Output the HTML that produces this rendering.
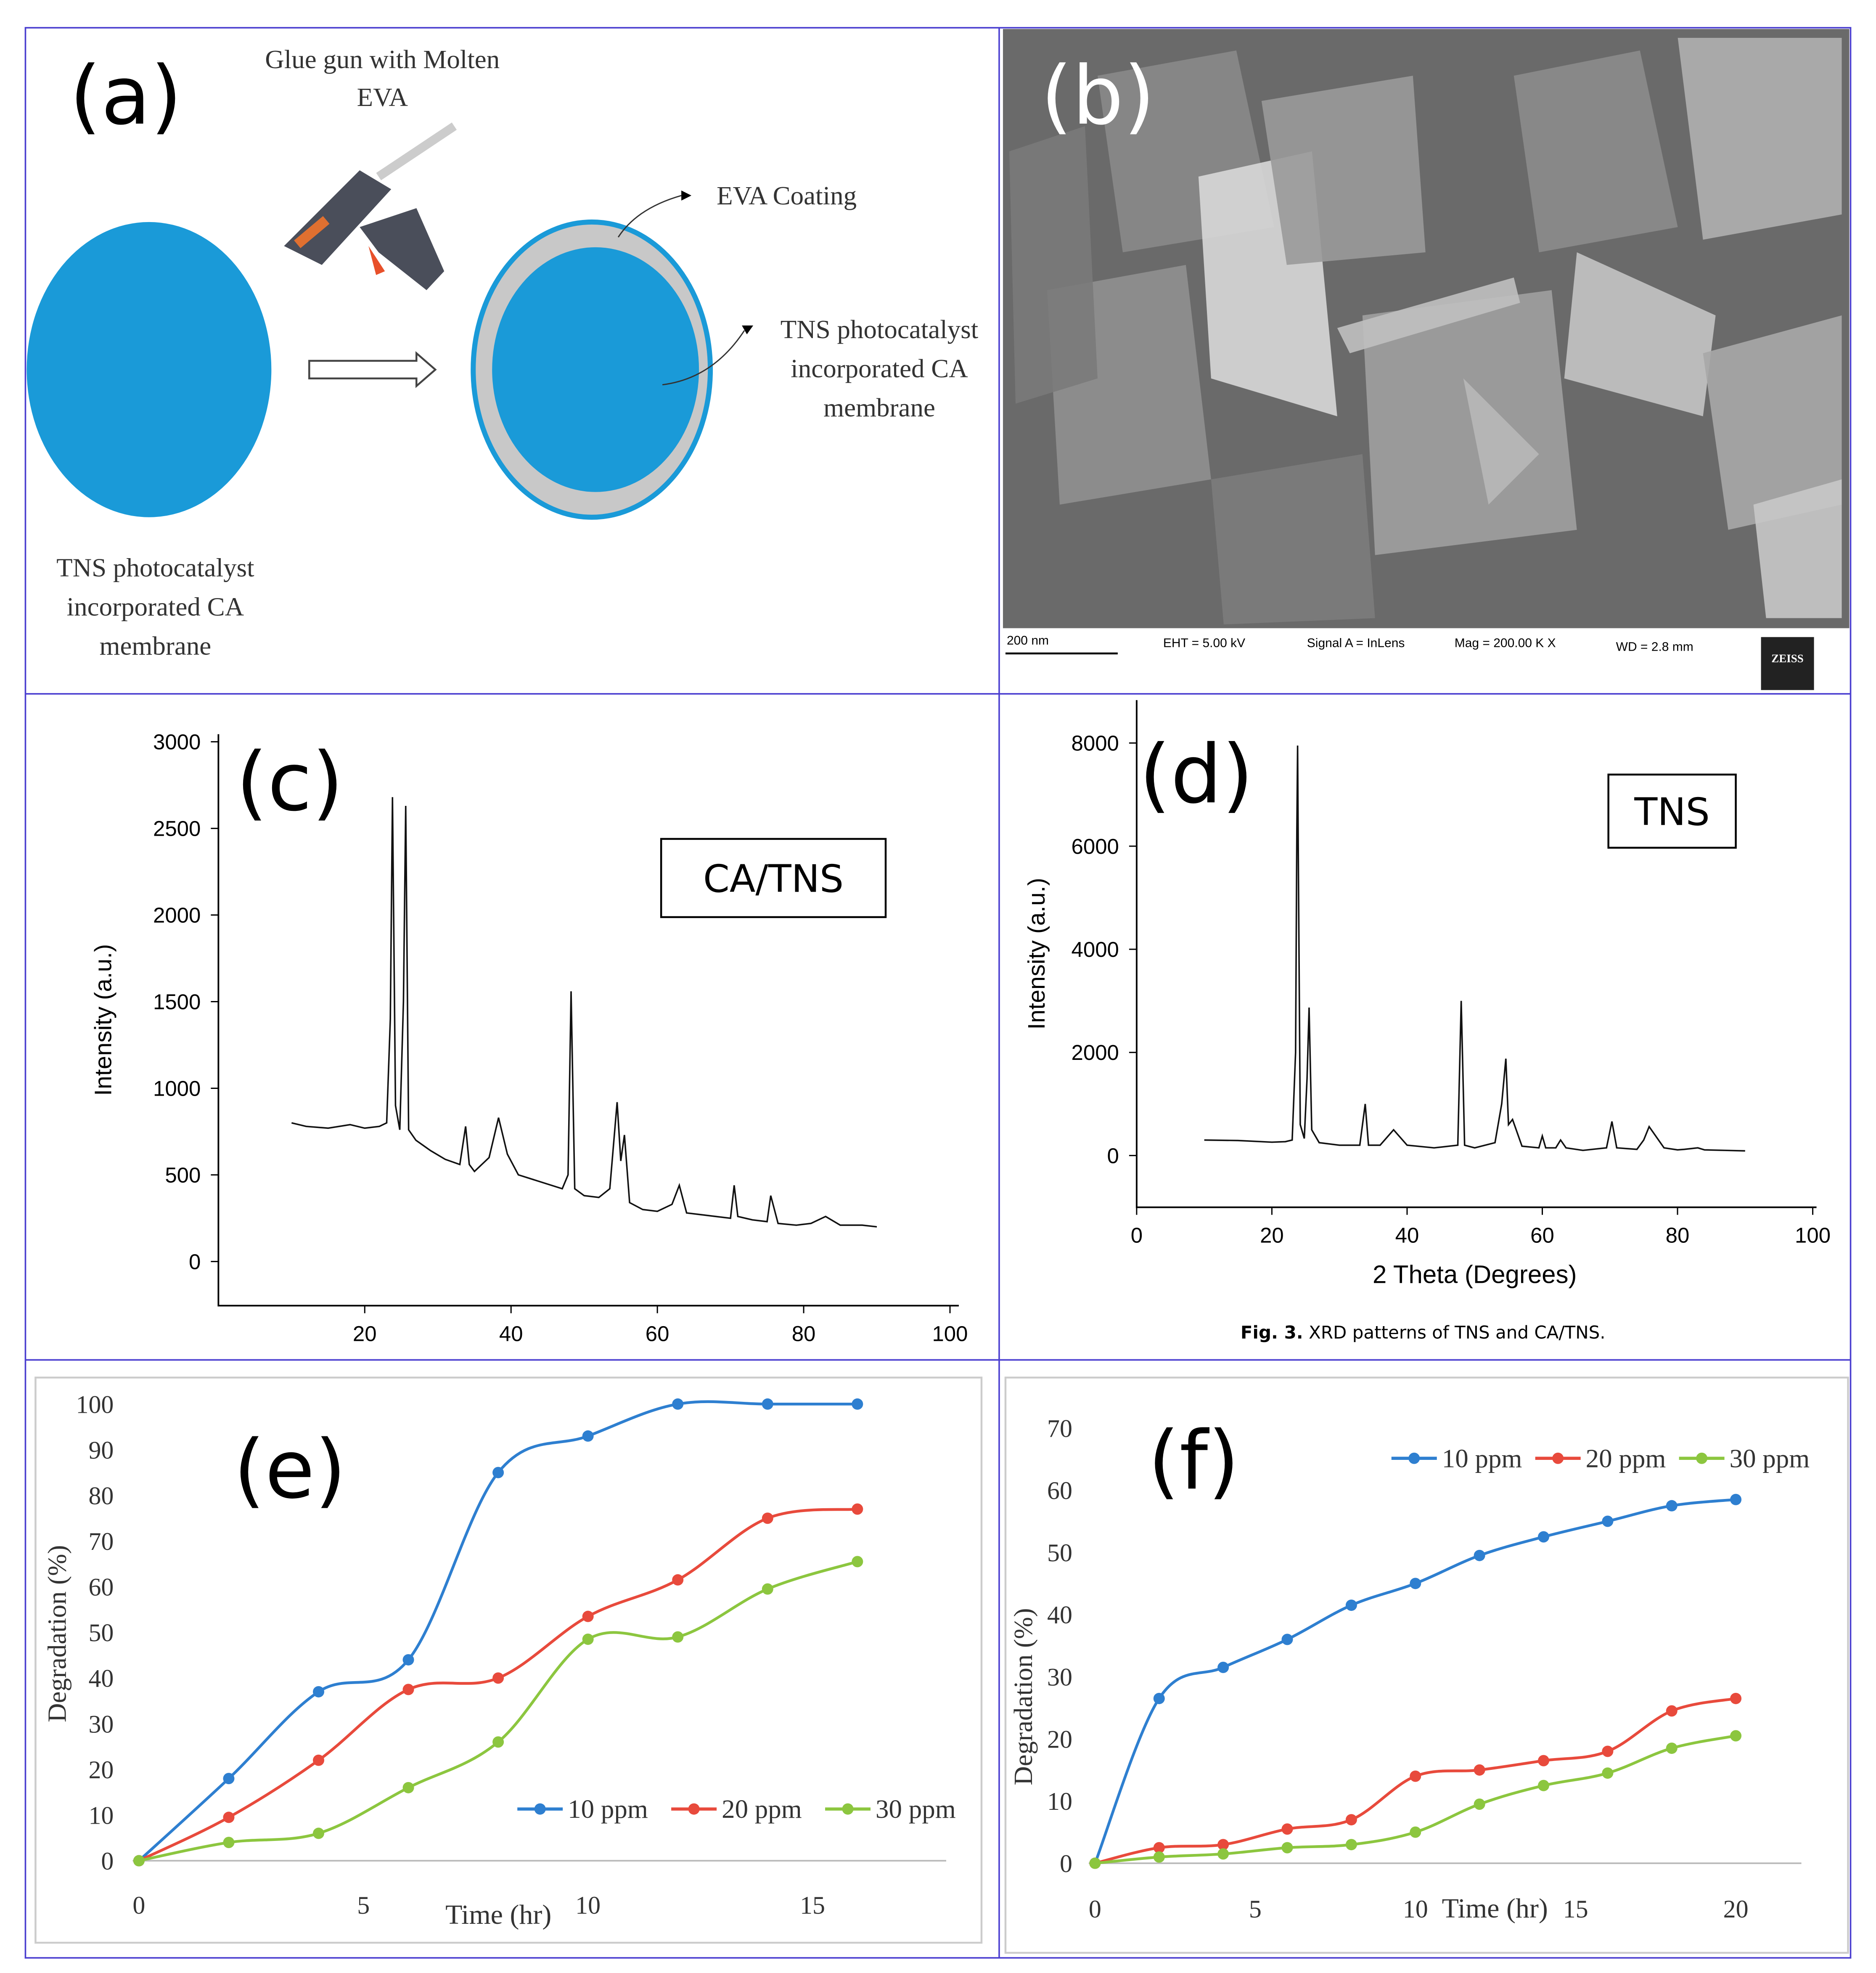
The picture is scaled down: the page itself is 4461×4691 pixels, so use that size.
<!DOCTYPE html>
<html><head><meta charset="utf-8"><style>
html,body{margin:0;padding:0;background:#fff}
svg{display:block}
</style></head><body>
<svg id="fig" xmlns="http://www.w3.org/2000/svg" width="4461" height="4691" viewBox="0 0 1487 1564" font-family="Liberation Sans, sans-serif">
<rect width="1487" height="1564" fill="#fff"/>
<!-- frame -->
<g fill="none" stroke="#4b3fd0" stroke-width="1.2">
<rect x="20" y="22" width="1447" height="1530"/>
<line x1="792" y1="22" x2="792" y2="1552"/>
<line x1="20" y1="550" x2="1467" y2="550"/>
<line x1="20" y1="1078" x2="1467" y2="1078"/>
</g>
<!-- panel a -->
<g font-family="Liberation Serif, serif">
<text x="55" y="98" font-family="DejaVu Sans, sans-serif" font-size="64">(a)</text>
<text x="303" y="54" font-size="21" text-anchor="middle" fill="#333">Glue gun with Molten</text>
<text x="303" y="84" font-size="21" text-anchor="middle" fill="#333">EVA</text>
<ellipse cx="118" cy="293" rx="97" ry="117" fill="#1a9ad8"/>
<text x="123" y="457" font-size="21" text-anchor="middle" fill="#333">TNS photocatalyst</text>
<text x="123" y="488" font-size="21" text-anchor="middle" fill="#333">incorporated CA</text>
<text x="123" y="519" font-size="21" text-anchor="middle" fill="#333">membrane</text>
<path d="M245 286 H330 V280 L345 293 L330 306 V300 H245 Z" fill="#fff" stroke="#444" stroke-width="1.5"/>
<g>
<line x1="300" y1="140" x2="360" y2="100" stroke="#ccc" stroke-width="7"/>
<path d="M225 195 L285 135 L310 150 L255 210 Z" fill="#4a4e5a"/>
<path d="M285 180 L330 165 L352 215 L338 230 L300 200 Z" fill="#4a4e5a"/>
<path d="M292 195 L305 215 L298 218 Z" fill="#e8502a"/>
<rect x="232" y="180" width="30" height="8" fill="#e07030" transform="rotate(-40 247 184)"/>
</g>
<ellipse cx="469" cy="293" rx="94" ry="117" fill="#c8c8c8" stroke="#1a9ad8" stroke-width="4"/>
<ellipse cx="472" cy="293" rx="82" ry="97" fill="#1a9ad8"/>
<path d="M490 188 Q505 165 540 155" fill="none" stroke="#333"/><path d="M540 151 L548 155 L540 159Z"/>
<path d="M525 305 Q565 300 590 262" fill="none" stroke="#333"/><path d="M588 258 L597 258 L592 265Z"/>
<text x="568" y="162" font-size="21" fill="#333">EVA Coating</text>
<text x="697" y="268" font-size="21" text-anchor="middle" fill="#333">TNS photocatalyst</text>
<text x="697" y="299" font-size="21" text-anchor="middle" fill="#333">incorporated CA</text>
<text x="697" y="330" font-size="21" text-anchor="middle" fill="#333">membrane</text>
</g>
<!-- panel b -->
<g>
<rect x="795" y="23" width="671" height="475" fill="#6a6a6a"/>
<g id="sem"></g>
<rect x="795" y="498" width="671" height="51" fill="#fff"/>
<text x="798" y="511" font-size="10">200 nm</text>
<line x1="797" y1="518" x2="886" y2="518" stroke="#000" stroke-width="1.5"/>
<text x="922" y="513" font-size="10">EHT =  5.00 kV</text>
<text x="1036" y="513" font-size="10">Signal A = InLens</text>
<text x="1153" y="513" font-size="10">Mag =  200.00 K X</text>
<text x="1281" y="516" font-size="10">WD =  2.8 mm</text>
<rect x="1396" y="505" width="42" height="42" fill="#222"/>
<text x="1417" y="525" font-size="9" fill="#fff" text-anchor="middle" font-family="Liberation Serif, serif" font-weight="bold">ZEISS</text>
<text x="825" y="98" font-family="DejaVu Sans, sans-serif" font-size="64" fill="#fff">(b)</text>
</g>
<g id="pc"></g>
<g id="pd"></g>
<g id="pe"></g>
<g id="pf"></g>
</svg>
<script>
// ---- data ----
const xrdCAx = [10,12,15,18,20,22,23,23.5,23.8,24.2,24.8,25.3,25.6,26,27,29,31,33,33.8,34.3,35,37,38.3,39.5,41,44,47,47.8,48.2,48.7,50,52,53.5,54.5,55,55.5,56.2,58,60,62,63,64,66,68,70,70.5,71,73,75,75.5,76.5,79,81,83,85,88,90];
const xrdCAy = [800,780,770,790,770,780,800,1400,2680,900,760,1500,2630,760,700,640,590,560,780,560,520,600,830,620,500,460,420,500,1560,420,380,370,420,920,580,730,340,300,290,330,440,280,270,260,250,440,260,240,230,380,220,210,220,260,210,210,200];
const xrdTx = [10,15,20,22,23,23.5,23.7,23.8,23.9,24.2,24.8,25.2,25.5,25.9,27,30,33,33.8,34.3,36,38,40,44,47.5,48,48.5,50,53,54,54.6,55,55.6,57,59.5,60,60.5,62,62.7,63.5,66,69.5,70.3,71,74,75,75.8,78,80,81,83,84,87,90];
const xrdTy = [300,290,260,270,300,2000,6300,7950,6000,600,330,1500,2870,500,250,200,200,1000,200,200,500,200,150,200,3000,200,150,250,1000,1880,600,700,180,150,380,150,150,300,150,100,150,660,150,120,300,560,150,110,120,150,110,100,90];
const timeE = [0,2,4,6,8,10,12,14,16];
const e10 = [0,18,37,44,85,93,100,100,100];
const e20 = [0,9.5,22,37.5,40,53.5,61.5,75,77];
const e30 = [0,4,6,16,26,48.5,49,59.5,65.5];
const timeF = [0,2,4,6,8,10,12,14,16,18,20];
const f10 = [0,26.5,31.5,36,41.5,45,49.5,52.5,55,57.5,58.5];
const f20 = [0,2.5,3,5.5,7,14,15,16.5,18,24.5,26.5];
const f30 = [0,1,1.5,2.5,3,5,9.5,12.5,14.5,18.5,20.5];
const seriesNames = ['10 ppm','20 ppm','30 ppm'];
const ticksCy = [0,500,1000,1500,2000,2500,3000];
const ticksCx = [20,40,60,80,100];
const ticksDy = [0,2000,4000,6000,8000];
const ticksDx = [0,20,40,60,80,100];
const ticksEy = [0,10,20,30,40,50,60,70,80,90,100];
const ticksEx = [0,5,10,15];
const ticksFy = [0,10,20,30,40,50,60,70];
const ticksFx = [0,5,10,15,20];

const NS='http://www.w3.org/2000/svg';
function mk(parent,tag,attrs,text){const el=document.createElementNS(NS,tag);for(const k in attrs)el.setAttribute(k,attrs[k]);if(text!==undefined)el.textContent=text;parent.appendChild(el);return el;}
function lin(d0,d1,r0,r1){return v=>r0+(v-d0)*(r1-r0)/(d1-d0);}
function smooth(pts){let d='M'+pts[0][0]+' '+pts[0][1];for(let i=0;i<pts.length-1;i++){const p0=pts[i-1]||pts[i],p1=pts[i],p2=pts[i+1],p3=pts[i+2]||p2;const t=0.17;d+=' C'+(p1[0]+(p2[0]-p0[0])*t)+' '+(p1[1]+(p2[1]-p0[1])*t)+' '+(p2[0]-(p3[0]-p1[0])*t)+' '+(p2[1]-(p3[1]-p1[1])*t)+' '+p2[0]+' '+p2[1];}return d;}

// SEM decoration
(function(){const g=document.getElementById('sem');
const polys=[[[870,60,980,40,1010,180,890,200],'#8a8a8a'],[[950,140,1040,120,1060,330,960,300],'#d8d8d8'],[[1000,80,1120,60,1130,200,1020,210],'#9a9a9a'],[[830,230,940,210,960,380,840,400],'#909090'],[[1080,250,1230,230,1250,420,1090,440],'#a0a0a0'],[[1200,60,1300,40,1330,180,1220,200],'#8c8c8c'],[[1330,30,1460,30,1460,170,1350,190],'#b0b0b0'],[[1250,200,1360,250,1350,330,1240,300],'#c4c4c4'],[[1350,280,1460,250,1460,400,1370,420],'#a8a8a8'],[[960,380,1080,360,1090,490,970,495],'#7c7c7c'],[[1160,300,1220,360,1180,400],'#b8b8b8'],[[1390,400,1460,380,1460,490,1400,490],'#c8c8c8'],[[800,120,860,100,870,300,805,320],'#7a7a7a'],[[1060,260,1200,220,1205,240,1070,280],'#c0c0c0']];
polys.forEach(p=>{const el=mk(g,'polygon',{points:p[0].join(' '),fill:p[1],opacity:0.9});});
})();

// XRD panels
function xrd(id,xs,ys,o){const g=document.getElementById(id);
const X=lin(o.x0,o.x1,o.px0,o.px1),Y=lin(o.y0,o.y1,o.py0,o.py1);
const ax=mk(g,'path',{d:'M'+o.axX+' '+o.axTop+' V'+o.axB+' H'+o.axR,fill:'none',stroke:'#000','stroke-width':1.3});

o.yt.forEach(v=>{mk(g,'line',{x1:o.axX-6,x2:o.axX,y1:Y(v),y2:Y(v),stroke:'#000'});const t=mk(g,'text',{x:o.axX-14,y:Y(v)+6,'font-size':17,'text-anchor':'end'},v);});
o.xt.forEach(v=>{mk(g,'line',{x1:X(v),x2:X(v),y1:o.axB,y2:o.axB+6,stroke:'#000'});const t=mk(g,'text',{x:X(v),y:o.axB+28,'font-size':17,'text-anchor':'middle'},v);});
const pts=xs.map((x,i)=>X(x).toFixed(1)+','+Y(ys[i]).toFixed(1));
const l=mk(g,'polyline',{points:pts.join(' '),fill:'none',stroke:'#111','stroke-width':1.2});

const yt=mk(g,'text',{x:0,y:0,'font-size':19,'text-anchor':'middle',transform:'translate('+o.ylx+','+((o.axTop+o.axB)/2)+') rotate(-90)'},'Intensity (a.u.)');

const lb=mk(g,'text',{x:o.lx,y:o.ly,'font-size':64,'font-family':'DejaVu Sans, sans-serif'},o.label);

const bx=mk(g,'rect',{x:o.bx,y:o.by,width:o.bw,height:o.bh,fill:'#fff',stroke:'#000','stroke-width':1.5});

const bt=mk(g,'text',{x:o.bx+o.bw/2,y:o.by+o.bh/2+11,'font-size':30,'text-anchor':'middle','font-family':'DejaVu Sans, sans-serif'},o.btext);

return g;}
xrd('pc',xrdCAx,xrdCAy,{x0:0,x1:100,px0:173,px1:753,y0:0,y1:3000,py0:1000,py1:588,axX:173,axTop:582,axB:1035,axR:760,yt:ticksCy,xt:ticksCx,ylx:88,lx:187,ly:642,label:'(c)',bx:524,by:665,bw:178,bh:62,btext:'CA/TNS'});
const gd=xrd('pd',xrdTx,xrdTy,{x0:0,x1:100,px0:901,px1:1437,y0:0,y1:8000,py0:916,py1:589,axX:901,axTop:555,axB:957,axR:1440,yt:ticksDy,xt:ticksDx,ylx:828,lx:903,ly:636,label:'(d)',bx:1275,by:614,bw:101,bh:58,btext:'TNS'});
(function(){const t=mk(gd,'text',{x:1169,y:1017,'font-size':20,'text-anchor':'middle'},'2 Theta (Degrees)');
const c=mk(gd,'text',{x:1128,y:1061,'font-size':14,'text-anchor':'middle','font-family':'DejaVu Sans, sans-serif'});
mk(c,'tspan',{'font-weight':'bold'},'Fig. 3.');mk(c,'tspan',{},' XRD patterns of TNS and CA/TNS.');})();

// degradation panels
const colors=['#2e7fd0','#e84a3c','#8cc63f'];
function deg(id,t,series,o){const g=document.getElementById(id);
const X=lin(0,o.xmax,o.px0,o.px1),Y=lin(0,o.ymax,o.py0,o.py1);
const fr=mk(g,'rect',{x:o.fx,y:o.fy,width:o.fw,height:o.fh,fill:'#fff',stroke:'#ccc','stroke-width':1.5});

const ax=mk(g,'line',{x1:o.px0-5,x2:o.axR,y1:o.py0,y2:o.py0,stroke:'#bbb','stroke-width':1.3});

o.yt.forEach(v=>{const e=mk(g,'text',{x:o.ylabX,y:Y(v)+7,'font-size':20,'text-anchor':'end','font-family':'Liberation Serif, serif',fill:'#333'},v);});
o.xt.forEach(v=>{const e=mk(g,'text',{x:X(v),y:o.xlabY,'font-size':20,'text-anchor':'middle','font-family':'Liberation Serif, serif',fill:'#333'},v);});
series.forEach((s,i)=>{const pts=t.map((x,j)=>[X(x),Y(s[j])]);
const p=mk(g,'path',{d:smooth(pts),fill:'none',stroke:colors[i],'stroke-width':2.2});

pts.forEach(q=>{const c=mk(g,'circle',{cx:q[0],cy:q[1],r:4.5,fill:colors[i]});});});
seriesNames.forEach((n,i)=>{const lx=o.legX+i*o.legStep;
const l=mk(g,'line',{x1:lx,x2:lx+36,y1:o.legY,y2:o.legY,stroke:colors[i],'stroke-width':2.5});
const c=mk(g,'circle',{cx:lx+18,cy:o.legY,r:4.5,fill:colors[i]});
const tx=mk(g,'text',{x:lx+40,y:o.legY+7,'font-size':21,'font-family':'Liberation Serif, serif',fill:'#333'},n);});
const yt=mk(g,'text',{x:0,y:0,'font-size':21,'text-anchor':'middle','font-family':'Liberation Serif, serif',fill:'#333',transform:'translate('+o.ytx+','+o.yty+') rotate(-90)'},'Degradation (%)');

const xt=mk(g,'text',{x:o.xtx,y:o.xty,'font-size':22,'text-anchor':'middle','font-family':'Liberation Serif, serif',fill:'#333'},'Time (hr)');

const lb=mk(g,'text',{x:o.lx,y:o.ly,'font-size':64,'font-family':'DejaVu Sans, sans-serif'},o.label);
}
deg('pe',timeE,[e10,e20,e30],{xmax:15,ymax:100,px0:110,px1:644,py0:1475,py1:1113,fx:28,fy:1092,fw:750,fh:448,axR:750,yt:ticksEy,xt:ticksEx,ylabX:90,xlabY:1517,legX:410,legStep:122,legY:1434,ytx:52,yty:1295,xtx:395,xty:1525,lx:185,ly:1187,label:'(e)'});
deg('pf',timeF,[f10,f20,f30],{xmax:20,ymax:70,px0:868,px1:1376,py0:1477,py1:1132,fx:797,fy:1092,fw:668,fh:456,axR:1428,yt:ticksFy,xt:ticksFx,ylabX:850,xlabY:1520,legX:1103,legStep:114,legY:1156,ytx:818,yty:1345,xtx:1185,xty:1520,lx:910,ly:1180,label:'(f)'});
</script>
</body></html>
